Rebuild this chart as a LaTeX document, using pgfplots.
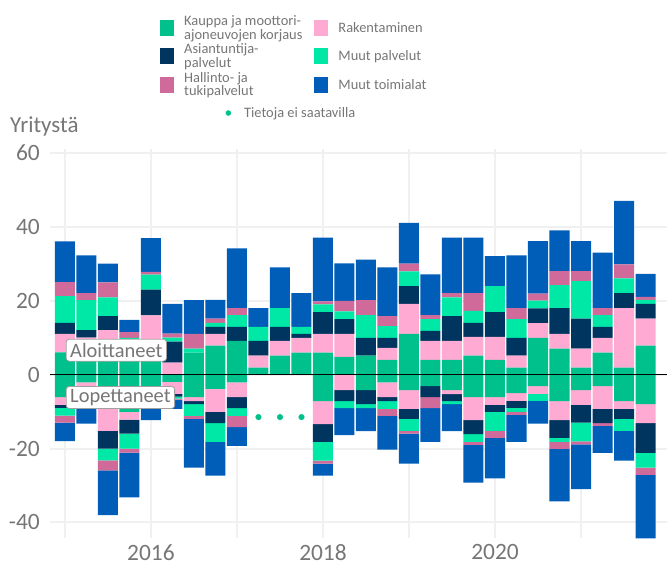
\documentclass[border=0pt]{standalone}
\usepackage{fontspec}
\setmainfont{Carlito}
\usepackage{pgfplots}
\pgfplotsset{compat=1.18}
\usepackage{pgfplotstable}

\definecolor{kauppa}{HTML}{00C08B}
\definecolor{rakent}{HTML}{FFAAD2}
\definecolor{asiant}{HTML}{00355F}
\definecolor{muutp}{HTML}{00E8A5}
\definecolor{hallinto}{HTML}{D06A9A}
\definecolor{muutt}{HTML}{005EB8}
\definecolor{txtgray}{HTML}{767676}
\definecolor{gridgray}{HTML}{F0F0F0}
\definecolor{boxgray}{HTML}{A0A0A0}

% aloittaneet (starting) companies per quarter
\pgfplotstableread{
x       K    R    A    MP   H    MT
2015.00 6    5    3    7.2  3.8  11
2015.25 8    2    2    8.1  1.9  10.2
2015.50 9    3    3.8  5.1  4    5.1
2015.75 9.5  0    0    0.4  1.6  3.3
2016.00 9    7    7    4    0.8  9.1
2016.25 0    3.2  5.7  1.1  1.1  8
2016.50 5.9  0    0    1.1  4    9.1
2016.75 7.8  3.2  1.9  1.1  1.1  5.1
2017.00 9.1  0    3.8  3.2  1.9  16.1
2017.25 1.9  3.2  4    3.8  0    5.1
2017.50 5.1  4    3.8  5.1  0    11
2017.75 5.9  4    1.1  1.9  0    9.1
2018.00 5.9  5.1  5.9  2.1  0.8  17.2
2018.25 4.8  6.2  4    2.1  2.8  10.2
2018.50 5.1  0    4.8  6.2  4    11
2018.75 4    3.2  2.7  3.2  2.7  13.2
2019.00 11   8.1  4.8  4    2.1  11
2019.25 4    5.1  2.7  3.2  1.1  11
2019.50 4    5.1  6.7  5.1  1.1  15
2019.75 5.1  5.1  3.8  3.2  4.8  15
2020.00 4    6.2  6.7  7    0    8.1
2020.25 1.9  3.2  4.8  5.1  3    14.2
2020.50 9.9  4    4    2.1  1.9  14.2
2020.75 7    4    7    6.2  3.8  11
2021.00 1.9  5.1  8.1  10.2 2.7  8.1
2021.25 5.9  4    3    3.2  1.9  15
2021.50 1.9  16.1 4    4    3.8  17.2
2021.75 7.8  7.3  4    1.1  0.8  6.2
}\postab

% lopettaneet (closed) companies per quarter
\pgfplotstableread{
x       K     R     A     MP    H     MT
2015.00 -6.1  -2.1  -0.8  -2.1  -1.9  -5
2015.25 -2.1  -3.5  -1    -1    -0.5  -5.2
2015.50 -5    -10.2 -4.8  -3.2  -2.7  -12.1
2015.75 -10.1 -2.1  -3.8  -4    -1.1  -12.1
2016.00 -7.5  0     0     0     0     -4.8
2016.25 -2    -3.2  -0.8  -0.5  -0.3  -2.5
2016.50 -6.1  -1.1  -0.8  -3.2  -0.8  -13.2
2016.75 -3.9  -6.2  -3    -5.1  0     -9.1
2017.00 -2.1  -4    -3    -2.1  -3    -5.1
2017.25 0     0     0     0     0     0
2017.50 0     0     0     0     0     0
2017.75 0     0     0     0     0     0
2018.00 -7.2  -6.2  -4.8  -5.1  -0.8  -3.2
2018.25 0     -4.2  -3    -1.9  0     -7.3
2018.50 -4.2  0     -3.8  -1.1  0     -6.2
2018.75 -2.1  -4    -1.1  -2.1  -1.9  -9.1
2019.00 -4.2  -5.1  -2.7  -3.2  -0.8  -8.1
2019.25 -3.1  0     -3    0     -3    -9.1
2019.50 -4.2  -1.1  -1.9  -0.8  0     -7.3
2019.75 -6.1  -6.2  -3.8  -2.1  -0.8  -10.2
2020.00 -6.1  -2.1  -1.9  -5.1  -1.9  -11
2020.25 -5    -2.1  -1.9  -1.1  -0.8  -7.3
2020.50 -3.1  -2.1  0     -1.9  0     -6.2
2020.75 -7.2  -5.1  -4.8  -1.1  -1.9  -14.2
2021.00 -4.2  -4    -4.8  -5.1  -0.8  -12.1
2021.25 -3.1  -6.2  -3.8  0     -0.8  -7.3
2021.50 -7.2  -2.1  -2.7  -3.2  0     -8.1
2021.75 -8    -5.1  -8.1  -4    -1.9  -17.2
}\negtab

\pgfplotsset{
  base/.style={scale only axis, width=617bp, height=389bp,
    xmin=2014.826, xmax=2022.0, ymin=-44.2, ymax=61,
    at={(0,0)}, anchor=south west},
  bars/.style={base, ybar stacked, bar width=0.2326},
}

\begin{document}
\begin{tikzpicture}
\useasboundingbox (-50bp,-29bp) rectangle (617bp,538bp);

% positive stack, grid, ticks, legend
\begin{axis}[bars,
  axis line style={draw=none},
  major tick length=0pt, minor tick length=0pt,
  xtick={2016,2018,2020}, minor xtick={2015,2017,2019,2021},
  ytick={-40,-20,...,60},
  grid=both,
  major grid style={gridgray, line width=2bp},
  minor grid style={gridgray, line width=2bp},
  /pgf/number format/1000 sep={},
  /pgf/number format/assume math mode=true,
  tick label style={font=\fontsize{23.5}{24}\selectfont, text=txtgray},
  yticklabel style={anchor=east, inner sep=0pt, xshift=-10bp},
  xticklabel style={anchor=north, inner sep=0pt, yshift=-6bp},
  legend cell align=left,
  legend image code/.code={\fill[#1, draw=none] (0bp,-8bp) rectangle (14bp,8bp);},
  legend columns=2,
  legend style={at={(axis description cs:0.1783,1.3445)}, anchor=north west,
    draw=none, fill=none, inner sep=0pt, row sep=3bp,
    font=\fontsize{14.5}{14}\selectfont, text=txtgray,
    nodes={align=left, inner sep=0pt},
    /tikz/every odd column/.append style={column sep=10bp},
    /tikz/every even column/.append style={column sep=12bp}},
]
\addplot[fill=kauppa, draw=none] table[x=x, y=K] {\postab};
\addlegendentry{Kauppa ja moottori-\\ajoneuvojen korjaus}
\addplot[fill=rakent, draw=none] table[x=x, y=R] {\postab};
\addlegendentry{Rakentaminen}
\addplot[fill=asiant, draw=none] table[x=x, y=A] {\postab};
\addlegendentry{Asiantuntija-\\palvelut}
\addplot[fill=muutp, draw=none] table[x=x, y=MP] {\postab};
\addlegendentry{Muut palvelut}
\addplot[fill=hallinto, draw=none] table[x=x, y=H] {\postab};
\addlegendentry{Hallinto- ja\\tukipalvelut}
\addplot[fill=muutt, draw=none] table[x=x, y=MT] {\postab};
\addlegendentry{Muut toimialat}
\end{axis}

% negative stack
\begin{axis}[bars, hide axis]
\addplot[fill=kauppa, draw=none] table[x=x, y=K] {\negtab};
\addplot[fill=rakent, draw=none] table[x=x, y=R] {\negtab};
\addplot[fill=asiant, draw=none] table[x=x, y=A] {\negtab};
\addplot[fill=muutp, draw=none] table[x=x, y=MP] {\negtab};
\addplot[fill=hallinto, draw=none] table[x=x, y=H] {\negtab};
\addplot[fill=muutt, draw=none] table[x=x, y=MT] {\negtab};
\end{axis}

% missing data markers, reference points for the labels
\begin{axis}[base, hide axis,
  legend image code/.code={\fill[kauppa] (2.5bp,0bp) circle (2.5bp);},
  legend style={at={(axis description cs:0.2844,1.0925)}, anchor=west,
    draw=none, fill=none, inner sep=0pt,
    font=\fontsize{14.5}{14}\selectfont, text=txtgray,
    nodes={inner sep=0pt},
    /tikz/every odd column/.append style={column sep=13bp}},
]
\addplot[only marks, mark=*, mark size=2.8bp, color=kauppa]
  coordinates {(2017.25,-11.5) (2017.50,-11.5) (2017.75,-11.5)};
\addlegendentry{Tietoja ei saatavilla}
\coordinate (zl) at (axis cs:2014.826,0);
\coordinate (zr) at (axis cs:2022,0);
\coordinate (alo) at (axis cs:2015.01,6.6);
\coordinate (lop) at (axis cs:2015.01,-6.2);
\coordinate (ttl) at (rel axis cs:0,1);
\end{axis}

\draw[black, line width=1.5bp] (zl) -- (zr);
\tikzset{lab/.style={draw=boxgray, line width=0.8bp, fill=white,
  rounded corners=3bp, text=txtgray, font=\fontsize{20.5}{21}\selectfont,
  inner xsep=4bp, inner ysep=2bp, minimum height=22bp, anchor=west}}
\node[lab] at (alo) {Aloittaneet};
\node[lab] at (lop) {Lopettaneet};
\node[anchor=west, text=txtgray, font=\fontsize{23}{24}\selectfont, inner sep=0pt]
  at ([xshift=-40bp, yshift=23bp]ttl) {Yritystä};
\end{tikzpicture}
\end{document}
